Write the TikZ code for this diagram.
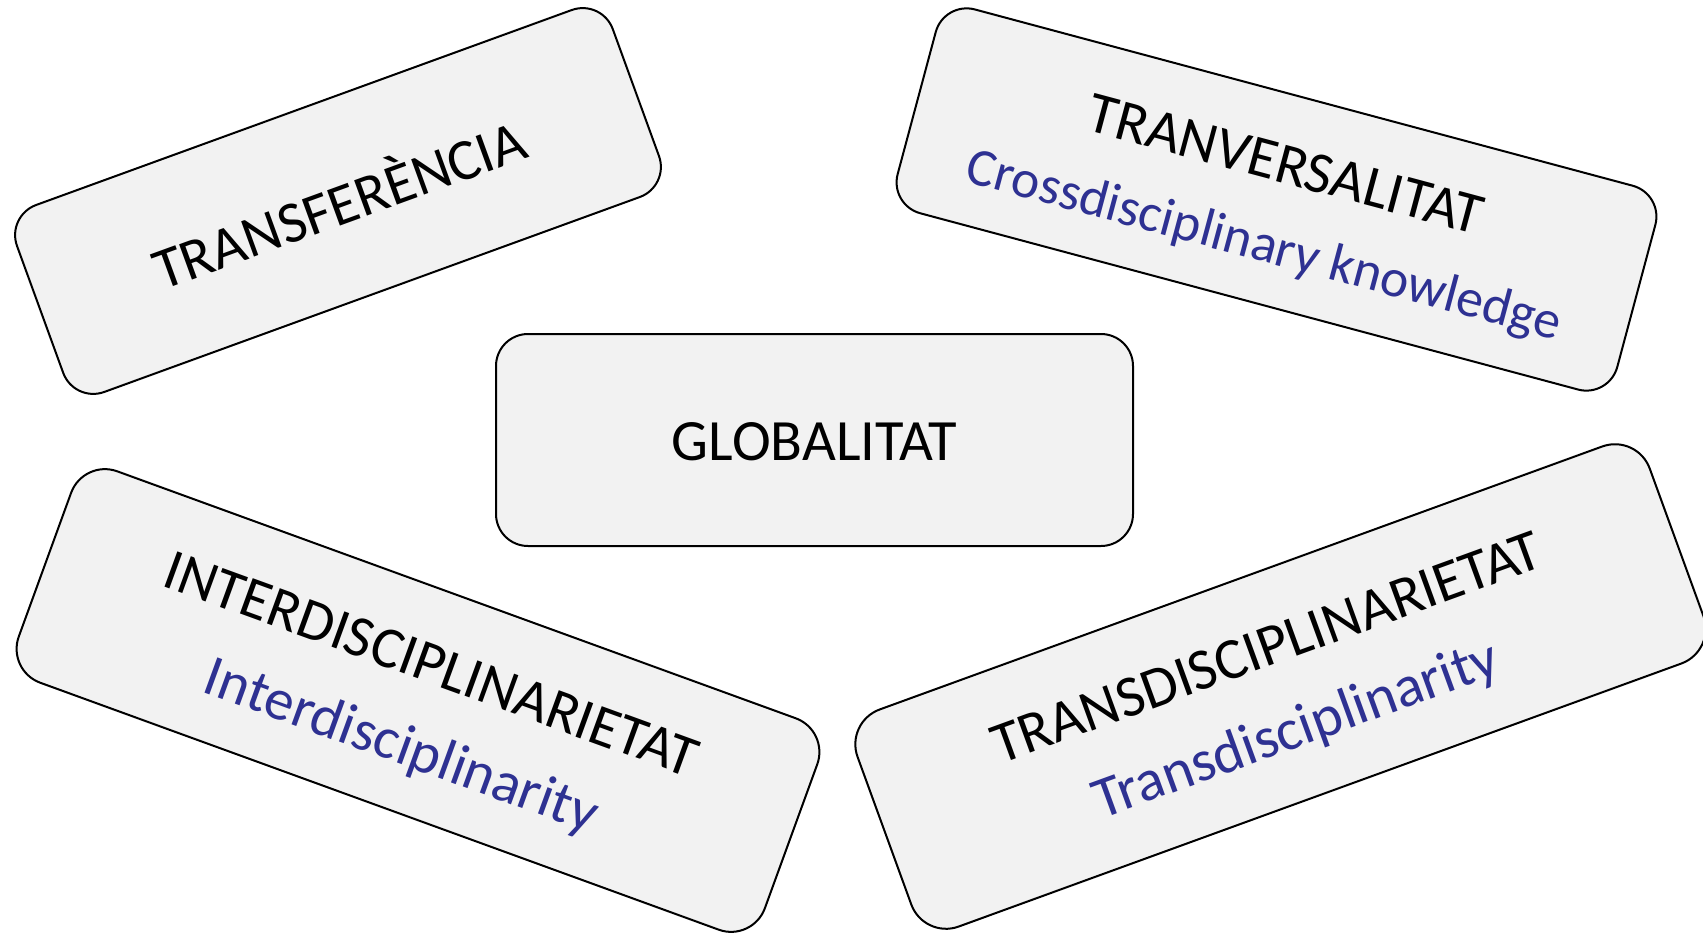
\documentclass[tikz,border=0pt]{standalone}
\usepackage{fontspec}
\setmainfont{Carlito}
\definecolor{boxfill}{HTML}{F2F2F2}
\definecolor{engblue}{HTML}{2E3192}
\begin{document}
\begin{tikzpicture}[x=1pt,y=-1pt,
  card/.style={draw=black, line width=2pt, fill=boxfill, rounded corners=32pt,
    inner sep=0pt, align=center, font=\fontsize{58.5}{86}\selectfont},
  eng/.style={text=engblue}]
\useasboundingbox (0,0) rectangle (1703,934);
\node[card, minimum width=637pt, minimum height=212pt] (glob) at (814.5,440) {\rule{0pt}{42pt}GLOBALITAT};
\node[card, minimum width=634pt, minimum height=199pt, rotate=20] (transf) at (338,201) {TRANSFERÈNCIA};
\node[card, minimum width=745pt, minimum height=211pt, rotate=-15] (tranv) at (1276.5,199.5)
  {\rule{0pt}{55pt}TRANVERSALITAT\\[-5pt]\textcolor{engblue}{\fontsize{53.7}{80}\selectfont Crossdisciplinary knowledge}};
\node[card, minimum width=794pt, minimum height=225pt, rotate=-20, rounded corners=36pt] (inter) at (418,700.5)
  {\rule{0pt}{55pt}INTERDISCIPLINARIETAT\\\textcolor{engblue}{Interdisciplinarity}};
\node[card, minimum width=843pt, minimum height=231pt, rotate=20, rounded corners=37pt] (trans) at (1280.5,686.5)
  {\rule{0pt}{50pt}TRANSDISCIPLINARIETAT\\\textcolor{engblue}{Transdisciplinarity}};
\end{tikzpicture}
\end{document}
